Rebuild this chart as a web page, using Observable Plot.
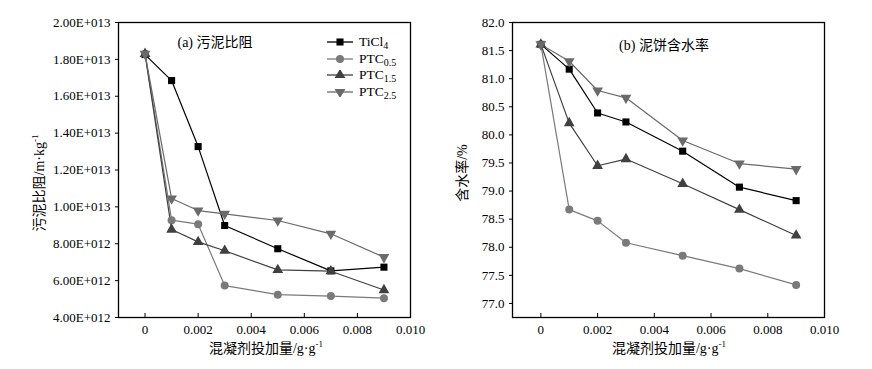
<!DOCTYPE html>
<html><head><meta charset="utf-8">
<script src="https://cdn.jsdelivr.net/npm/d3@7"></script>
<script src="https://cdn.jsdelivr.net/npm/@observablehq/plot@0.6"></script>
<style>
body{margin:0;background:#fff;}
#wrap{position:relative;width:872px;height:369px;background:#fff;font-family:"Liberation Serif","Noto Sans CJK SC",serif;color:#000;}
.abs{position:absolute;white-space:nowrap;}
.cjk{font-family:"Liberation Serif","Noto Sans CJK SC",serif;}
sup{font-size:9px;vertical-align:6px;line-height:0;}
sub{font-size:10px;vertical-align:-3px;line-height:0;}
.leg{position:absolute;display:flex;align-items:center;font-size:13.5px;height:16px;}
.leg svg{margin-right:6px;}
</style>
</head><body>
<div id="wrap"></div>
<script>
// ---- data ----
const doses = [0, 0.001, 0.002, 0.003, 0.005, 0.007, 0.009];
const seriesNames = ["TiCl4", "PTC0.5", "PTC1.5", "PTC2.5"];
const seriesLabelsHtml = ["TiCl<sub>4</sub>", "PTC<sub>0.5</sub>", "PTC<sub>1.5</sub>", "PTC<sub>2.5</sub>"];
const seriesColors = ["#000000", "#7a7a7a", "#404040", "#6a6a6a"];

// (a) sludge specific resistance, m/kg
const srfTiCl4 = [1.826e13, 1.685e13, 1.327e13, 8.99e12, 7.73e12, 6.53e12, 6.73e12];
const srfPTC05 = [1.83e13, 9.28e12, 9.06e12, 5.73e12, 5.24e12, 5.16e12, 5.05e12];
const srfPTC15 = [1.83e13, 8.77e12, 8.10e12, 7.62e12, 6.58e12, 6.51e12, 5.49e12];
const srfPTC25 = [1.83e13, 1.045e13, 9.80e12, 9.62e12, 9.26e12, 8.54e12, 7.27e12];

// (b) cake water content, %
const wcTiCl4 = [81.61, 81.17, 80.39, 80.23, 79.71, 79.07, 78.83];
const wcPTC05 = [81.61, 78.67, 78.47, 78.08, 77.85, 77.62, 77.33];
const wcPTC15 = [81.61, 80.21, 79.45, 79.57, 79.13, 78.67, 78.21];
const wcPTC25 = [81.61, 81.31, 80.79, 80.66, 79.90, 79.49, 79.39];

const xTicks = [0, 0.002, 0.004, 0.006, 0.008, 0.010];
const yTicksA = [4e12, 6e12, 8e12, 1e13, 1.2e13, 1.4e13, 1.6e13, 1.8e13, 2e13];
const yTicksB = [77.0, 77.5, 78.0, 78.5, 79.0, 79.5, 80.0, 80.5, 81.0, 81.5, 82.0];

const titleA = "(a)  污泥比阻";
const titleB = "(b) 泥饼含水率";
const xLabelHtml = "混凝剂投加量/g·g<sup>-1</sup>";
const yLabelAHtml = "污泥比阻/m·kg<sup>-1</sup>";
const yLabelBHtml = "含水率/%";

// ---- build tables ----
function table(arrs) {
  const rows = [];
  arrs.forEach((arr, i) => arr.forEach((v, j) => rows.push({series: seriesNames[i], x: doses[j], y: v})));
  return rows;
}
const dataA = table([srfTiCl4, srfPTC05, srfPTC15, srfPTC25]);
const dataB = table([wcTiCl4, wcPTC05, wcPTC15, wcPTC25]);

const triDown = {
  draw(ctx, size) {
    d3.symbolTriangle.draw({
      moveTo: (x, y) => ctx.moveTo(x, -y),
      lineTo: (x, y) => ctx.lineTo(x, -y),
      closePath: () => ctx.closePath()
    }, size);
  }
};
const symbols = [d3.symbolSquare, d3.symbolCircle, d3.symbolTriangle, triDown];

const fmtX = d => d === 0 ? "0" : d.toFixed(3);
const fmtA = d => d >= 1e13 ? (d / 1e13).toFixed(2) + "E+013" : (d / 1e12).toFixed(2) + "E+012";
const fmtB = d => d.toFixed(1);

function makePlot(data, opts) {
  return Plot.plot({
    width: 436, height: 369,
    marginLeft: opts.ml, marginRight: opts.mr, marginTop: 22, marginBottom: 52,
    x: {domain: [-0.001, 0.010]},
    y: {domain: opts.ydom},
    color: {domain: seriesNames, range: seriesColors},
    symbol: {domain: seriesNames, range: symbols},
    style: {fontFamily: "Liberation Serif, serif", fontSize: "13px", color: "#000", background: "transparent"},
    marks: [
      Plot.axisX({ticks: xTicks, tickFormat: fmtX, tickSize: -4, tickPadding: 11, label: null, stroke: "#000"}),
      Plot.axisY({ticks: opts.yticks, tickFormat: opts.fmt, tickSize: 3, tickPadding: 5, label: null, stroke: "#000"}),
      Plot.line(data, {x: "x", y: "y", z: "series", stroke: "series", strokeWidth: 1.2}),
      Plot.dot(data, {x: "x", y: "y", symbol: "series", fill: "series", stroke: "none", r: 4}),
      Plot.frame({stroke: "#000", strokeWidth: 1.3})
    ]
  });
}

const wrap = document.getElementById("wrap");
const pA = makePlot(dataA, {ml: 118, mr: 26, ydom: [4e12, 2e13], yticks: yTicksA, fmt: fmtA});
const pB = makePlot(dataB, {ml: 76, mr: 48, ydom: [76.75, 82.0], yticks: yTicksB, fmt: fmtB});
const dA = document.createElement("div"); dA.className = "abs"; dA.style.left = "0px"; dA.style.top = "0px"; dA.appendChild(pA); wrap.appendChild(dA);
const dB = document.createElement("div"); dB.className = "abs"; dB.style.left = "436px"; dB.style.top = "0px"; dB.appendChild(pB); wrap.appendChild(dB);

function addText(html, x, y, size, rotate) {
  const d = document.createElement("div");
  d.className = "abs cjk";
  d.innerHTML = html;
  d.style.fontSize = size + "px";
  d.style.left = x + "px"; d.style.top = y + "px";
  d.style.transform = "translate(-50%,-50%)" + (rotate ? " rotate(-90deg)" : "");
  wrap.appendChild(d);
}
addText(titleA, 215, 41, 14);
addText(titleB, 664, 44, 14);
addText(xLabelHtml, 266, 347, 14);
addText(xLabelHtml, 669, 347, 14);
addText(yLabelAHtml, 38, 183, 14, true);
addText(yLabelBHtml, 461, 173, 14, true);

// legend
seriesNames.forEach((s, i) => {
  const row = document.createElement("div");
  row.className = "leg";
  row.style.left = "327px";
  row.style.top = (34 + i * 16.7) + "px";
  const svg = d3.create("svg").attr("width", 26).attr("height", 10);
  svg.append("line").attr("x1", 0).attr("x2", 26).attr("y1", 5).attr("y2", 5).attr("stroke", seriesColors[i]).attr("stroke-width", 1.3);
  svg.append("path").attr("transform", "translate(13,5)").attr("d", d3.symbol(symbols[i], 50)()).attr("fill", seriesColors[i]);
  row.appendChild(svg.node());
  const t = document.createElement("span");
  t.innerHTML = seriesLabelsHtml[i];
  row.appendChild(t);
  wrap.appendChild(row);
});
</script>
</body></html>
